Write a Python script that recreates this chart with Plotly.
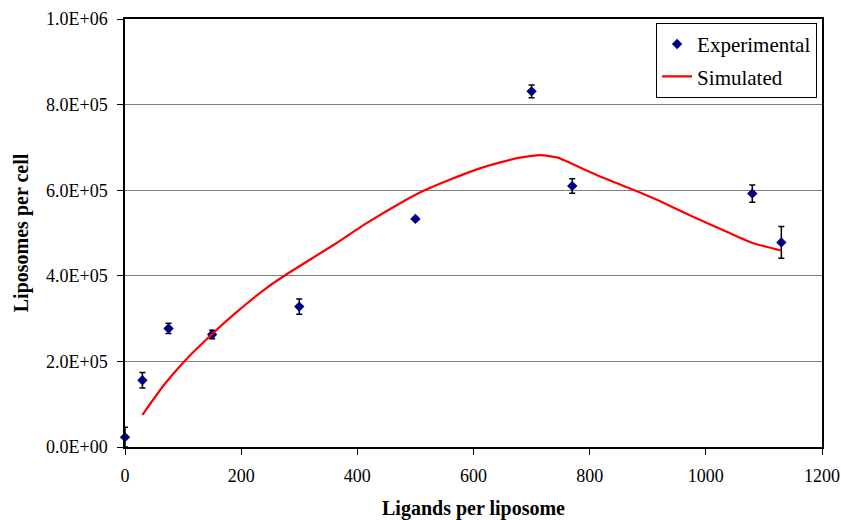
import plotly.graph_objects as go

# Experimental data
exp_x = [0, 30, 75, 150, 300, 500, 700, 770, 1080, 1130]
exp_y = [23000, 156000, 277000, 263000, 328000, 533000, 831000, 610000, 592000, 478000]
exp_err = [23000, 18000, 12000, 10000, 18000, 3000, 15000, 17000, 20000, 37000]

# Simulated curve
sim_x = [30, 66, 100, 150, 186, 244, 281, 359, 416, 473, 513, 560, 611, 646, 680, 715,
         745, 761, 818, 875, 915, 978, 1036, 1082, 1130]
sim_y = [75000, 143000, 197000, 264000, 308000, 372000, 406000, 472000, 523000, 569000,
         598000, 625000, 651000, 665000, 676000, 682000, 676000, 667000, 632000, 601000,
         578000, 538000, 503000, 476000, 459000]

y_tickvals = [0, 200000, 400000, 600000, 800000, 1000000]
y_ticktext = ["0.0E+00", "2.0E+05", "4.0E+05", "6.0E+05", "8.0E+05", "1.0E+06"]
x_tickvals = [0, 200, 400, 600, 800, 1000, 1200]

FONT = "Liberation Serif"

fig = go.Figure()
fig.add_trace(go.Scatter(
    x=exp_x, y=exp_y, mode="markers", name="Experimental", legendgroup="a",
    marker=dict(symbol="diamond", size=8, color="#000080"),
    error_y=dict(type="data", array=exp_err, visible=True, color="black",
                 thickness=1.5, width=3),
    cliponaxis=False,
))
fig.add_trace(go.Scatter(
    x=sim_x, y=sim_y, mode="lines", name="Simulated", legendgroup="b",
    line=dict(color="#ff0000", width=2.2, shape="spline", smoothing=0.5),
))

fig.update_layout(
    width=841, height=520,
    margin=dict(l=125, r=19, t=19, b=73, autoexpand=False),
    paper_bgcolor="white", plot_bgcolor="white",
    font=dict(family=FONT, size=18, color="black"),
    showlegend=True,
    legend=dict(
        x=0.993, y=0.991, xanchor="right", yanchor="top",
        bgcolor="white", bordercolor="black", borderwidth=1,
        font=dict(family=FONT, size=21, color="black"),
        tracegroupgap=2,
    ),
    xaxis=dict(
        range=[0, 1200], tickvals=x_tickvals, automargin=False,
        tickfont=dict(family=FONT, size=18, color="black"),
        showline=True, linecolor="black", linewidth=1.5, mirror=True,
        ticks="outside", ticklen=6, tickcolor="black", tickwidth=1,
        showgrid=False, zeroline=False,
        ticklabelstandoff=6,
        title=dict(text="<b>Ligands per liposome</b>",
                   font=dict(family=FONT, size=20, color="black"), standoff=18),
    ),
    yaxis=dict(
        range=[0, 1000000], tickvals=y_tickvals, ticktext=y_ticktext, automargin=False,
        tickfont=dict(family=FONT, size=18, color="black"),
        showline=True, linecolor="black", linewidth=1.5, mirror=True,
        ticks="outside", ticklen=6, tickcolor="black", tickwidth=1,
        showgrid=True, gridcolor="#808080", gridwidth=1, zeroline=False,
        ticklabelstandoff=6,
        title=dict(text="<b>Liposomes per cell</b>",
                   font=dict(family=FONT, size=20, color="black"), standoff=12),
    ),
)

fig.write_html("out.html")
